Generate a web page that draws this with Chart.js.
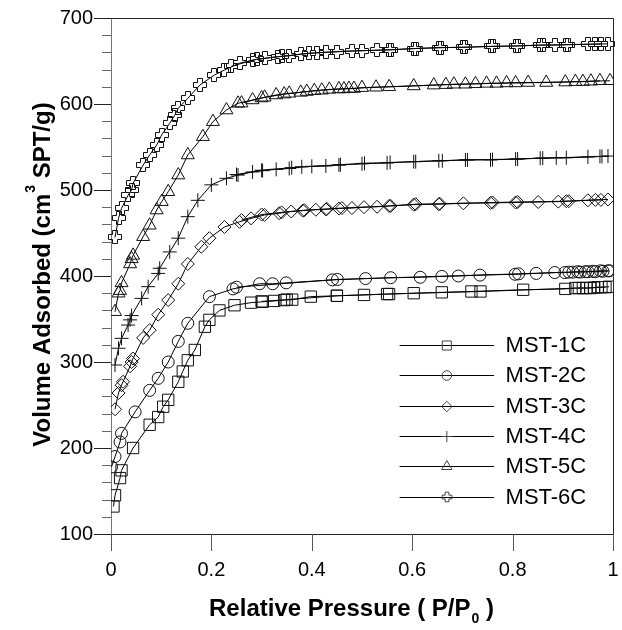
<!DOCTYPE html>
<html><head><meta charset="utf-8">
<script src="https://cdn.jsdelivr.net/npm/chart.js@4.4.0/dist/chart.umd.min.js"></script>
<style>html,body{margin:0;padding:0;background:#fff;}canvas{display:block;}</style>
</head><body>
<canvas id="c" width="622" height="630"></canvas>
<script>
// ---------------- data ----------------
const seriesNames = ['MST-1C', 'MST-2C', 'MST-3C', 'MST-4C', 'MST-5C', 'MST-6C'];
const xTickValues = [0, 0.2, 0.4, 0.6, 0.8, 1];
const yTickValues = [100, 200, 300, 400, 500, 600, 700];
const xTitleParts = ['Relative Pressure ( P/P', '0', ' )'];
const yTitleParts = ['Volume Adsorbed (cm', '3', ' SPT/g)'];

const mst1cAdsP = [0.005,0.008,0.018,0.021,0.044,0.077,0.094,0.104,0.114,0.134,0.143,0.153,0.167,0.187,0.196,0.216,0.246,0.279,0.302,0.325,0.345,0.361,0.398,0.45,0.504,0.554,0.603,0.659,0.718,0.821,0.905,0.925,0.94,0.955,0.97,0.985];
const mst1cAdsV = [132,145,165,174,200,227,236,248,256,277,289,302,314,341,349,360,366,369,370,371,372,372.5,376,377,378,379,380,381,382,384,385,386,386,386,387,387];
const mst1cDesP = [0.992,0.977,0.962,0.947,0.932,0.736,0.55,0.45,0.35,0.30];
const mst1cDesV = [387.5,387,386.5,386,386,382,379,377,372.5,370.5];

const mst2cAdsP = [0.001,0.008,0.018,0.021,0.048,0.077,0.094,0.114,0.134,0.153,0.196,0.243,0.296,0.322,0.349,0.441,0.507,0.557,0.616,0.659,0.692,0.735,0.805,0.847,0.884,0.904,0.92,0.935,0.95,0.965,0.98,0.993];
const mst2cAdsV = [178,190,207,217,242,267,281,300,324,345,376,385,391,391,392,395.5,397,398,398.5,399.5,400,401,402,403,404,404,404.5,404.5,405,405,405.5,406];
const mst2cDesP = [0.99,0.975,0.96,0.945,0.93,0.912,0.812,0.451,0.25];
const mst2cDesV = [406,406,405.5,405,405,404.5,402.5,396,387];

const mst3cAdsP = [0.008,0.015,0.021,0.024,0.038,0.041,0.044,0.064,0.077,0.094,0.114,0.134,0.153,0.18,0.196,0.226,0.256,0.279,0.306,0.335,0.359,0.382,0.408,0.428,0.454,0.48,0.504,0.53,0.554,0.603,0.653,0.702,0.756,0.806,0.851,0.891,0.907,0.95,0.976];
const mst3cAdsV = [245,264,273,277,295,300,304,328,337,355,372,391,414,434,444,457,463,467,471,473,475,476,477,477.5,478.5,479,480,480.5,481.5,483,483.5,484.5,485,485.5,486,486.5,487,488,488.5];
const mst3cDesP = [0.99,0.965,0.912,0.81,0.76,0.655,0.607,0.557,0.46,0.43,0.385,0.34,0.30,0.26];
const mst3cDesV = [489,488.5,487,486,485.5,484,483.5,481.5,479,478,476.5,474,471.5,465];

const mst4cAdsP = [0.008,0.015,0.021,0.034,0.038,0.041,0.061,0.074,0.094,0.097,0.117,0.134,0.153,0.173,0.2,0.23,0.253,0.282,0.302,0.329,0.355,0.38,0.428,0.454,0.5,0.55,0.603,0.653,0.706,0.756,0.806,0.855,0.887,0.95,0.974];
const mst4cAdsV = [296.5,316,327.5,343,349,354,374,387.6,403,409,428,444,469,488,506,513.6,517.4,521,522.5,524,525,527,528,529,530.5,531.5,533,534,535,535,536,537,537.5,538.5,539];
const mst4cDesP = [0.99,0.978,0.907,0.86,0.81,0.76,0.71,0.66,0.607,0.556,0.505,0.457,0.40,0.36,0.30,0.25];
const mst4cDesV = [539.5,539,537.5,537,536,535.5,535,534,533,532,531,529.5,527.5,526,523,518];

const mst5cAdsP = [0.008,0.015,0.018,0.021,0.038,0.041,0.044,0.064,0.077,0.091,0.101,0.114,0.134,0.153,0.183,0.203,0.23,0.253,0.282,0.306,0.329,0.355,0.378,0.405,0.435,0.464,0.484,0.5,0.554,0.603,0.643,0.683,0.726,0.768,0.806,0.867,0.925,0.956,0.994];
const mst5cAdsV = [358.5,380,383,392,414,420,424,445.7,459,476.7,486.4,498,517.4,540.7,562,579.4,593,600.8,604.7,607.8,610.5,612.4,613.5,615.5,617,617.5,618,619,620,621,622,623,623.5,624,624.5,625,626,626.5,627];
const mst5cDesP = [0.974,0.94,0.905,0.831,0.788,0.748,0.706,0.667,0.528,0.474,0.454,0.42,0.39,0.345,0.30,0.26];
const mst5cDesV = [627,626,625.5,625,624.5,624,623,622.5,619.5,618,617.5,616,614.5,611.5,607,601];

const mst6cAdsP = [0.008,0.015,0.021,0.034,0.041,0.044,0.064,0.077,0.091,0.101,0.117,0.127,0.134,0.153,0.177,0.206,0.226,0.256,0.282,0.306,0.332,0.355,0.378,0.411,0.451,0.5,0.554,0.603,0.653,0.702,0.756,0.806,0.855,0.907,0.95,0.976];
const mst6cAdsV = [445,467,478.7,494,500,507.8,529,540.7,552.3,564,577.5,587,595,606.6,622,633.7,639.5,647.3,651,653,655,656,658,659.7,661,662,663,664.5,665.5,666,667,667.5,668.5,669,669.5,670];
const mst6cDesP = [0.99,0.965,0.91,0.885,0.86,0.81,0.76,0.706,0.657,0.607,0.558,0.53,0.48,0.428,0.395,0.34,0.29,0.24];
const mst6cDesV = [670,669.5,669,668.5,668.5,667.5,667,666,665.5,664.5,663,662.5,661.6,660,659,655.5,652,644];

// ---------------- styling ----------------
const FONT = '"Liberation Sans", Arial, Helvetica, sans-serif';

// hollow plus marker, drawn crisp on half pixels
function drawHollowPlus(ctx, x, y, color, s) {
  const cx = Math.round(x), cy = Math.round(y);
  const a = 2.5 * s, L = 6.5 * s;
  ctx.save();
  ctx.strokeStyle = color; ctx.lineWidth = 1;
  ctx.beginPath();
  ctx.moveTo(cx - a, cy - L); ctx.lineTo(cx + a, cy - L); ctx.lineTo(cx + a, cy - a);
  ctx.lineTo(cx + L, cy - a); ctx.lineTo(cx + L, cy + a); ctx.lineTo(cx + a, cy + a);
  ctx.lineTo(cx + a, cy + L); ctx.lineTo(cx - a, cy + L); ctx.lineTo(cx - a, cy + a);
  ctx.lineTo(cx - L, cy + a); ctx.lineTo(cx - L, cy - a); ctx.lineTo(cx - a, cy - a);
  ctx.closePath(); ctx.stroke();
  ctx.restore();
}
const markerStyles = [
  {style: 'rect', r: 8},
  {style: 'circle', r: 6},
  {style: 'rectRot', r: 6.5},
  {style: 'cross', r: 7},
  {style: 'triangle', r: 7.5},
  {style: 'hollowPlus', r: 0}
];
const seriesData = [
  [mst1cAdsP, mst1cAdsV, mst1cDesP, mst1cDesV],
  [mst2cAdsP, mst2cAdsV, mst2cDesP, mst2cDesV],
  [mst3cAdsP, mst3cAdsV, mst3cDesP, mst3cDesV],
  [mst4cAdsP, mst4cAdsV, mst4cDesP, mst4cDesV],
  [mst5cAdsP, mst5cAdsV, mst5cDesP, mst5cDesV],
  [mst6cAdsP, mst6cAdsV, mst6cDesP, mst6cDesV]
];
function pts(P, V) { return P.map((p, i) => ({x: p, y: V[i]})); }
const datasets = [];
seriesNames.forEach((name, i) => {
  const [aP, aV, dP, dV] = seriesData[i];
  const custom = markerStyles[i].style === 'hollowPlus';
  const base = {
    showLine: true, borderColor: '#000', borderWidth: 1, tension: 0,
    pointStyle: custom ? 'circle' : markerStyles[i].style,
    pointRadius: markerStyles[i].r, pointHoverRadius: markerStyles[i].r,
    pointBorderColor: '#111', pointBackgroundColor: 'rgba(0,0,0,0)', pointBorderWidth: 1
  };
  datasets.push(Object.assign({label: name, data: pts(aP, aV), isLegend: true, mIdx: i, customMarker: custom}, base));
  datasets.push(Object.assign({label: name + ' (desorption)', data: pts(dP, dV), isLegend: false, mIdx: i, customMarker: custom}, base));
});

function measureParts(ctx, parts, cx, size) {
  const big = 'bold ' + size + 'px ' + FONT, small = 'bold ' + Math.round(size * 0.6) + 'px ' + FONT;
  ctx.font = big; const w0 = ctx.measureText(parts[0]).width; const w2 = ctx.measureText(parts[2]).width;
  ctx.font = small; const w1 = ctx.measureText(parts[1]).width;
  const total = w0 + w1 + w2;
  return {big, small, w0, w1, w2, start: cx - total / 2};
}

const markerPlugin = {
  id: 'customMarkers',
  afterDatasetsDraw(chart) {
    const ctx = chart.ctx;
    chart.data.datasets.forEach((d, di) => {
      if (!d.customMarker) return;
      chart.getDatasetMeta(di).data.forEach(el => drawHollowPlus(ctx, el.x, el.y, '#111', 1));
    });
  }
};

const decorPlugin = {
  id: 'decor',
  afterDraw(chart) {
    const ctx = chart.ctx, a = chart.chartArea;
    const xs = chart.scales.x, ys = chart.scales.y;
    ctx.save();
    // frame (top & right)
    ctx.strokeStyle = '#222'; ctx.lineWidth = 1;
    ctx.beginPath();
    ctx.moveTo(Math.round(a.left) + 0.5, Math.round(a.top) + 0.5);
    ctx.lineTo(Math.round(a.right) + 0.5, Math.round(a.top) + 0.5);
    ctx.lineTo(Math.round(a.right) + 0.5, Math.round(a.bottom) + 0.5);
    ctx.stroke();
    // y ticks (major every 100, minor every 20)
    for (let v = ys.min; v <= ys.max + 1e-9; v += 20) {
      const y = Math.round(ys.getPixelForValue(v)) + 0.5;
      const major = Math.abs(v % 100) < 1e-6;
      ctx.strokeStyle = major ? '#222' : '#666';
      ctx.beginPath();
      ctx.moveTo(a.left - (major ? 17 : 9), y); ctx.lineTo(a.left, y); ctx.stroke();
    }
    // x ticks
    xTickValues.forEach(v => {
      const x = Math.round(xs.getPixelForValue(v)) + 0.5;
      ctx.strokeStyle = '#555';
      ctx.beginPath(); ctx.moveTo(x, a.bottom); ctx.lineTo(x, a.bottom + 17); ctx.stroke();
    });
    // legend
    const legendSets = chart.data.datasets.filter(d => d.isLegend);
    const lx0 = xs.getPixelForValue(0.575), lx1 = xs.getPixelForValue(0.763), mx = xs.getPixelForValue(0.669);
    const tx = xs.getPixelForValue(0.786);
    legendSets.forEach((d, i) => {
      const y = ys.getPixelForValue(320) + i * 30.4;
      const yy = Math.round(y) + 0.5;
      ctx.strokeStyle = '#000'; ctx.lineWidth = 1;
      ctx.beginPath(); ctx.moveTo(lx0, yy); ctx.lineTo(lx1, yy); ctx.stroke();
      const ms = markerStyles[d.mIdx];
      if (d.customMarker) {
        drawHollowPlus(ctx, mx, yy - 0.5, '#444', 0.75);
      } else {
        ctx.strokeStyle = '#444'; ctx.fillStyle = 'rgba(0,0,0,0)'; ctx.lineWidth = 1;
        Chart.helpers.drawPoint(ctx, {pointStyle: ms.style, radius: ms.r * 0.8, borderWidth: 1, rotation: 0}, mx, yy);
      }
      ctx.fillStyle = '#000';
      ctx.font = '22px ' + FONT;
      ctx.textAlign = 'left'; ctx.textBaseline = 'middle';
      ctx.fillText(d.label, tx, y + 1);
    });
    // axis titles
    ctx.fillStyle = '#000'; ctx.textAlign = 'left'; ctx.textBaseline = 'alphabetic';
    let m = measureParts(ctx, xTitleParts, (a.left + a.right) / 2 - 11, 24);
    const xb = 616;
    ctx.font = m.big; ctx.fillText(xTitleParts[0], m.start, xb);
    ctx.font = m.small; ctx.fillText(xTitleParts[1], m.start + m.w0 + 1, xb + 7);
    ctx.font = m.big; ctx.fillText(xTitleParts[2], m.start + m.w0 + m.w1 + 1, xb);
    ctx.save();
    ctx.translate(50, (a.top + a.bottom) / 2 - 1);
    ctx.rotate(-Math.PI / 2);
    m = measureParts(ctx, yTitleParts, 0, 24);
    ctx.font = m.big; ctx.fillText(yTitleParts[0], m.start, 0);
    ctx.font = m.small; ctx.fillText(yTitleParts[1], m.start + m.w0 + 1, -15);
    ctx.font = m.big; ctx.fillText(yTitleParts[2], m.start + m.w0 + m.w1 + 1, 0);
    ctx.restore();
    ctx.restore();
  }
};

function noPad(s) { s.paddingLeft = 0; s.paddingRight = 0; s.paddingTop = 0; s.paddingBottom = 0; }

new Chart(document.getElementById('c'), {
  type: 'scatter',
  data: {datasets},
  options: {
    responsive: false, animation: false, devicePixelRatio: 1,
    layout: {padding: {left: 0, right: 7, top: 18, bottom: 0}},
    plugins: {legend: {display: false}, tooltip: {enabled: false}},
    scales: {
      x: {
        type: 'linear', position: 'bottom', min: 0, max: 1,
        afterBuildTicks: s => { s.ticks = xTickValues.map(v => ({value: v})); },
        ticks: {
          font: {family: FONT, size: 20}, color: '#000', padding: 24, maxRotation: 0,
          callback: v => String(Math.round(v * 10) / 10)
        },
        grid: {display: false, drawTicks: false},
        border: {display: true, color: '#222', width: 1},
        title: {display: false},
        afterFit: s => { s.height = 96; noPad(s); }
      },
      y: {
        type: 'linear', position: 'left', min: 100, max: 700,
        afterBuildTicks: s => { s.ticks = yTickValues.map(v => ({value: v})); },
        ticks: {font: {family: FONT, size: 20}, color: '#000', padding: 18,
                callback: v => String(v)},
        grid: {display: false, drawTicks: false},
        border: {display: true, color: '#777', width: 1},
        title: {display: false},
        afterFit: s => { s.width = 111; noPad(s); }
      }
    }
  },
  plugins: [markerPlugin, decorPlugin]
});
</script>
</body></html>
